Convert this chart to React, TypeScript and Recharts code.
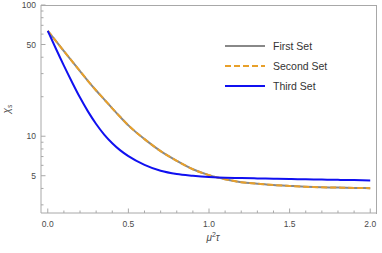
import { LineChart, Line, XAxis, YAxis } from "recharts"

const xs = [0, 0.05, 0.1, 0.15, 0.2, 0.25, 0.3, 0.35, 0.4, 0.45, 0.5, 0.6, 0.7, 0.8, 0.9, 1.0, 1.1, 1.2, 1.3, 1.4, 1.5, 1.6, 1.7, 1.8, 1.9, 2.0]
const firstSet = [63.6, 53.2, 44.5, 37.3, 31.3, 26.3, 22.3, 19.1, 16.3, 14.0, 12.1, 9.5, 7.7, 6.5, 5.6, 5.05, 4.7, 4.46, 4.35, 4.25, 4.18, 4.12, 4.08, 4.06, 4.04, 4.02]
const secondSet = [63.6, 53.2, 44.5, 37.3, 31.3, 26.3, 22.3, 19.1, 16.3, 14.0, 12.1, 9.5, 7.7, 6.5, 5.6, 5.05, 4.7, 4.46, 4.35, 4.25, 4.18, 4.12, 4.08, 4.06, 4.04, 4.02]
const thirdSet = [63.6, 46.6, 34.5, 25.9, 19.7, 15.4, 12.4, 10.3, 8.85, 7.8, 7.05, 6.05, 5.45, 5.15, 5.0, 4.89, 4.82, 4.8, 4.77, 4.75, 4.72, 4.7, 4.67, 4.65, 4.63, 4.6]

const xTicks = [0, 0.1, 0.2, 0.3, 0.4, 0.5, 0.6, 0.7, 0.8, 0.9, 1.0, 1.1, 1.2, 1.3, 1.4, 1.5, 1.6, 1.7, 1.8, 1.9, 2.0]
const xMajor = [0, 0.5, 1, 1.5, 2]
const yTicks = [3, 4, 5, 6, 7, 8, 9, 10, 20, 30, 40, 50, 60, 70, 80, 90, 100]
const yMajor = [5, 10, 50, 100]

const series = [
  { key: "first", name: "First Set", color: "#888888", dash: undefined as string | undefined },
  { key: "second", name: "Second Set", color: "#E8A02A", dash: "6 3" },
  { key: "third", name: "Third Set", color: "#1010F0", dash: undefined as string | undefined },
]

const data = xs.map((x, i) => ({ x, first: firstSet[i], second: secondSet[i], third: thirdSet[i] }))

const X_DOMAIN = [-0.042, 2.042]
const Y_DOMAIN = [2.6, 100]

const FRAME = "#a8a8a8"
const TEXT = "#4a4a4a"
const FONT = "'Liberation Sans', Arial, sans-serif"

const isMajor = (list: number[], v: number) => list.some((m) => Math.abs(m - v) < 1e-6)

// bottom ticks point inward, labels only on the half-units
const BottomTick = (props: any) => {
  const { x, y, payload } = props
  const major = isMajor(xMajor, payload.value)
  return (
    <g>
      <line x1={x} x2={x} y1={y} y2={y - (major ? 4.5 : 2.5)} stroke={FRAME} />
      {major && (
        <text x={x} y={y + 14} textAnchor="middle" fontSize={8.5} fill={TEXT} fontFamily={FONT}>
          {payload.value.toFixed(1)}
        </text>
      )}
    </g>
  )
}

const LeftTick = (props: any) => {
  const { x, y, payload } = props
  const major = isMajor(yMajor, payload.value)
  return (
    <g>
      <line x1={x} x2={x + (major ? 4.5 : 2.5)} y1={y} y2={y} stroke={FRAME} />
      {major && (
        <text x={x - 5} y={y + 3} textAnchor="end" fontSize={8.5} fill={TEXT} fontFamily={FONT}>
          {payload.value}
        </text>
      )}
    </g>
  )
}

const YLabel = (props: any) => {
  const { viewBox } = props
  const cx = viewBox.x + 10
  const cy = viewBox.y + viewBox.height / 2
  return (
    <text x={cx} y={cy} transform={`rotate(-90, ${cx}, ${cy})`} textAnchor="middle" fontSize={10} fill={TEXT} fontFamily={FONT}>
      <tspan fontStyle="italic">χ</tspan>
      <tspan fontSize={7} dy={2} fontStyle="italic">s</tspan>
    </text>
  )
}

const XLabel = (props: any) => {
  const { viewBox } = props
  const cx = viewBox.x + viewBox.width / 2 + 4
  const cy = viewBox.y + 28
  return (
    <text x={cx} y={cy} textAnchor="middle" fontSize={10} fill={TEXT} fontFamily={FONT}>
      <tspan fontStyle="italic">μ</tspan>
      <tspan fontSize={7} dy={-4}>2</tspan>
      <tspan fontStyle="italic" dy={4}>τ</tspan>
    </text>
  )
}

const LegendBox = () => (
  <div style={{ position: "absolute", left: 225, top: 36, fontFamily: FONT, fontSize: 10.5, color: "#333" }}>
    {series.map((s) => (
      <div key={s.key} style={{ display: "flex", alignItems: "center", height: 20 }}>
        <svg width={40} height={4}>
          <line x1={0} x2={40} y1={2} y2={2} stroke={s.color} strokeWidth={2} strokeDasharray={s.dash} />
        </svg>
        <span style={{ marginLeft: 8 }}>{s.name}</span>
      </div>
    ))}
  </div>
)

export default function App() {
  return (
    <div style={{ position: "absolute", left: 0, top: 0, width: 382, height: 253, background: "#fff" }}>
      <LineChart width={382} height={253} data={data} margin={{ top: 5, right: 5, bottom: 0, left: 0 }}>
        <XAxis
          dataKey="x"
          type="number"
          domain={X_DOMAIN}
          ticks={xTicks}
          interval={0}
          tickSize={0}
          tickMargin={0}
          tick={<BottomTick />}
          stroke={FRAME}
          height={40}
          allowDataOverflow
          label={<XLabel />}
        />
        <YAxis
          type="number"
          scale="log"
          domain={Y_DOMAIN}
          ticks={yTicks}
          interval={0}
          tickSize={0}
          tickMargin={0}
          tick={<LeftTick />}
          stroke={FRAME}
          width={41}
          allowDataOverflow
          label={<YLabel />}
        />
        {series.map((s) => (
          <Line
            key={s.key}
            dataKey={s.key}
            name={s.name}
            type="monotone"
            stroke={s.color}
            strokeWidth={2}
            strokeDasharray={s.dash}
            dot={false}
            activeDot={false}
            isAnimationActive={false}
          />
        ))}
      </LineChart>
      {/* top and right edges of the frame */}
      <div
        style={{
          position: "absolute",
          left: 41,
          top: 5,
          width: 335,
          height: 208,
          borderTop: `1px solid ${FRAME}`,
          borderRight: `1px solid ${FRAME}`,
          pointerEvents: "none",
        }}
      />
      <LegendBox />
    </div>
  )
}
